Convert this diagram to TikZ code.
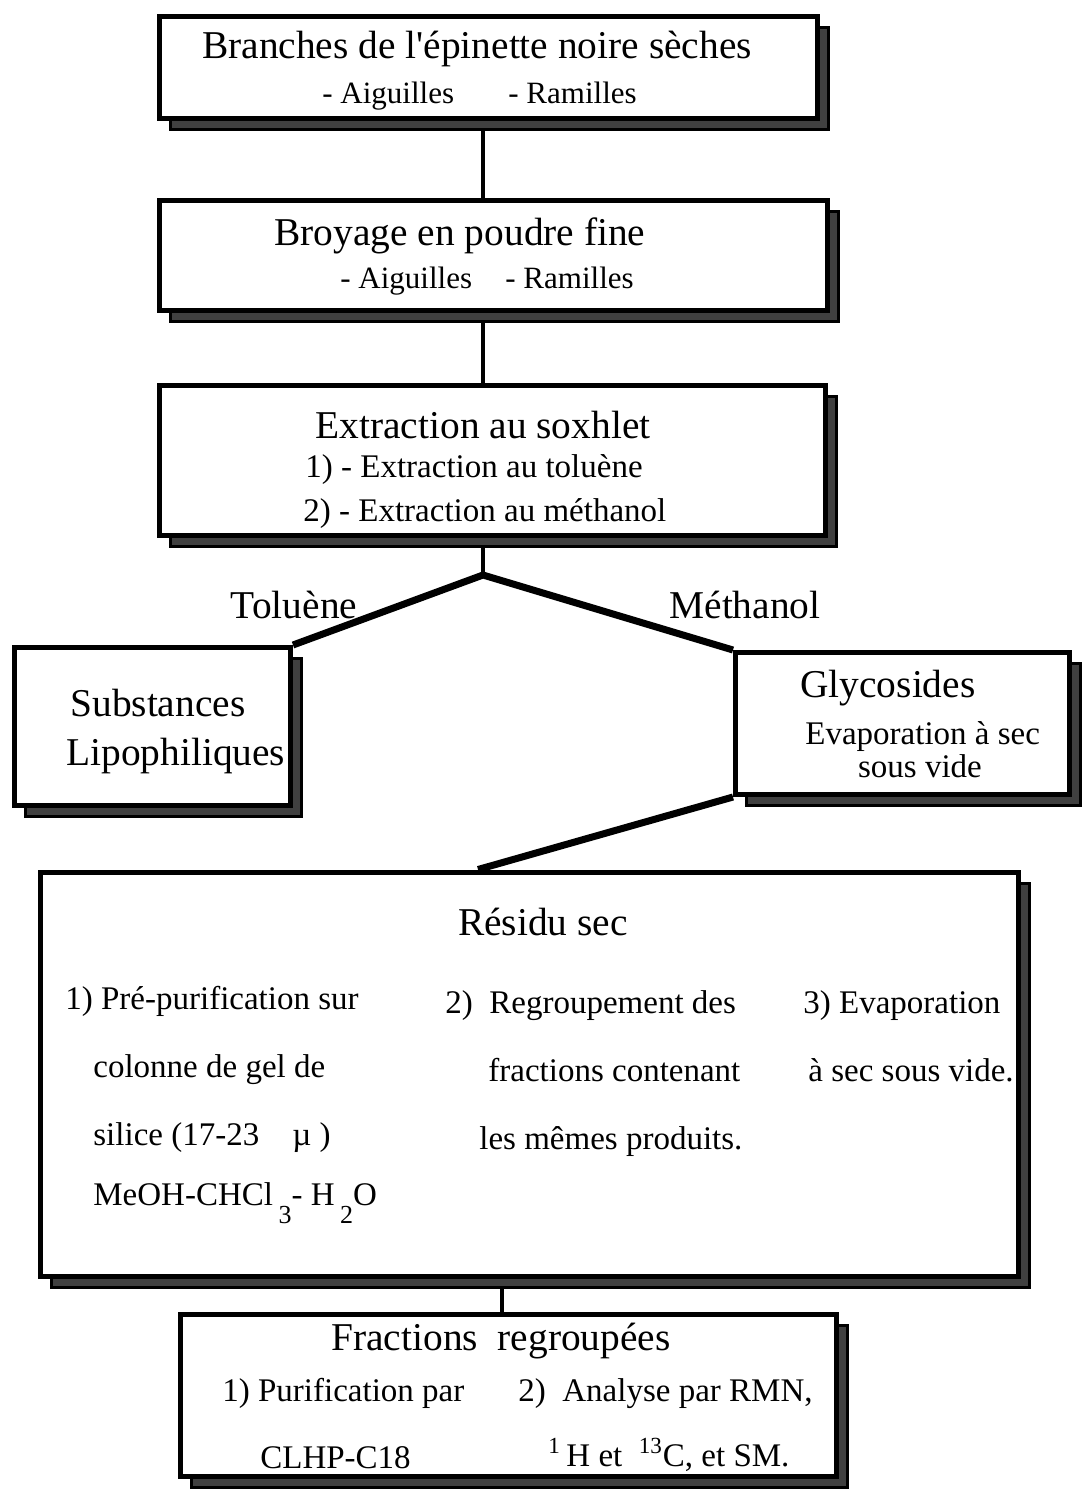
\documentclass[tikz,border=0pt]{standalone}
\usepackage{fontspec}
\setmainfont{Liberation Serif}
\usetikzlibrary{shadows,backgrounds}

\newcommand{\indice}[1]{\raisebox{-0.55em}{\fontsize{13}{13}\selectfont #1}}

\begin{document}
\begin{tikzpicture}[-,x=0.5pt,y=-0.5pt]
  \tikzstyle{box}=[draw,fill=white,shape=rectangle,line width=2.5pt,inner sep=0pt,
    general shadow={fill=black!75,draw=black,line width=1.5pt,shadow xshift=5.5pt,shadow yshift=-5.5pt}];
  \tikzstyle{titre}=[inner sep=0pt,anchor=base,font=\fontsize{19.7}{24}\selectfont];
  \tikzstyle{sous}=[inner sep=0pt,anchor=base west,font=\fontsize{15.5}{19}\selectfont];
  \tikzstyle{texte}=[inner sep=0pt,anchor=base west,font=\fontsize{16.5}{20}\selectfont];
  \tikzstyle{lien}=[draw,line width=2pt];
  \tikzstyle{branche}=[draw,line width=3.5pt];

  \useasboundingbox (0,0) rectangle (1084,1496);

  % boites
  \path (488.5,67.5)  node[box,minimum width=329pt,minimum height=51pt] (branches) {};
  \path (493.5,255)   node[box,minimum width=334pt,minimum height=55pt] (broyage) {};
  \path (492.5,460.5) node[box,minimum width=333pt,minimum height=75pt] (soxhlet) {};
  \path (152.5,726.5) node[box,minimum width=138pt,minimum height=79pt] (lipo) {};
  \path (902.5,723.5) node[box,minimum width=167pt,minimum height=71pt] (glyco) {};
  \path (529,1074)    node[box,minimum width=489pt,minimum height=202pt] (residu) {};
  \path (508,1395)    node[box,minimum width=328pt,minimum height=81pt] (fractions) {};

  \coordinate (axe) at (483,0);
  \coordinate (split) at (483,575);
  \coordinate (jres) at (478,0);
  \coordinate (jfrac) at (502,0);

  % liens
  \begin{scope}[on background layer]
    \path[lien] (branches.south -| axe) -- (broyage.north -| axe);
    \path[lien] (broyage.south -| axe) -- (soxhlet.north -| axe);
    \path[lien] (soxhlet.south -| axe) -- (split);
    \path[branche] (lipo.north east) -- (split) -- (glyco.north west);
    \path[branche] (glyco.south west) -- (residu.north -| jres);
    \path[lien] (residu.south -| jfrac) -- (fractions.north -| jfrac);
  \end{scope}

  % textes
  \path (477,58)  node[titre] (t1) {Branches de l\textquotesingle épinette noire sèches};
  \path (322,103) node[sous] (t1a) {- Aiguilles};
  \path (508,103) node[sous] (t1b) {- Ramilles};

  \path (460,245) node[titre] (t2) {Broyage en poudre fine};
  \path (340,288) node[sous] (t2a) {- Aiguilles};
  \path (505,288) node[sous] (t2b) {- Ramilles};

  \path (483,438) node[titre] (t3) {Extraction au soxhlet};
  \path (305,477) node[texte] (t3a) {1) - Extraction au toluène};
  \path (303,521) node[texte] (t3b) {2) - Extraction au méthanol};

  \path (294,618) node[titre] (tol) {Toluène};
  \path (745,618) node[titre] (meth) {Méthanol};

  \path (70,716)  node[titre,anchor=base west] (t4a) {Substances};
  \path (66,765)  node[titre,anchor=base west] (t4b) {Lipophiliques};

  \path (800,697) node[titre,anchor=base west] (t5) {Glycosides};
  \path (805,744) node[texte] (t5a) {Evaporation à sec};
  \path (920,777) node[texte,anchor=base] (t5b) {sous vide};

  \path (543,935) node[titre] (t6) {Résidu sec};
  \path (65,1009)  node[texte] (c1a) {1) Pré-purification sur};
  \path (93,1077)  node[texte] (c1b) {colonne de gel de};
  \path (93,1145)  node[texte] (c1c) {silice (17-23\quad µ )};
  \path (93,1205)  node[texte] (c1d) {MeOH-CHCl\,\indice{3}- H\,\indice{2}O};
  \path (445,1013) node[texte] (c2a) {2)\ \ Regroupement des};
  \path (488,1081) node[texte] (c2b) {fractions contenant};
  \path (479,1149) node[texte] (c2c) {les mêmes produits.};
  \path (803,1013) node[texte] (c3a) {3) Evaporation};
  \path (808,1081) node[texte] (c3b) {à sec sous vide.};

  \path (501,1350) node[titre] (t7) {Fractions\ \ regroupées};
  \path (222,1401) node[texte] (d1a) {1) Purification par};
  \path (260,1468) node[texte] (d1b) {CLHP-C18};
  \path (518,1401) node[texte] (d2a) {2)\ \ Analyse par RMN,};
  \path (548,1466) node[texte] (d2b) {\textsuperscript{1}\,H et \ \textsuperscript{13}C, et SM.};
\end{tikzpicture}
\end{document}
